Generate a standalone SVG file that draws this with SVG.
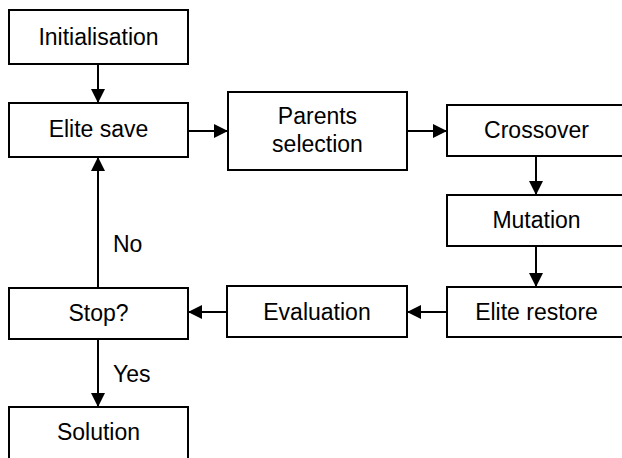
<svg xmlns="http://www.w3.org/2000/svg" width="622" height="458" viewBox="0 0 622 458">
<style>
.box{fill:#fff;stroke:#000;stroke-width:2}
.lbl{font-family:"Liberation Sans",Arial,sans-serif;font-size:23px;fill:#000;text-anchor:middle}
.side{font-family:"Liberation Sans",Arial,sans-serif;font-size:23px;fill:#000}
.edge{stroke:#000;stroke-width:2;fill:none;marker-end:url(#ah)}
</style>
<defs>
<marker id="ah" markerUnits="userSpaceOnUse" markerWidth="15" markerHeight="15" refX="14" refY="7" orient="auto">
<path d="M0,0 L14,7 L0,14 z" fill="#000"/>
</marker>
</defs>
<rect width="622" height="458" fill="#fff"/>
<g id="connectors">
<line class="edge" x1="98" y1="64" x2="98" y2="103"/>
<line class="edge" x1="188" y1="131" x2="228" y2="131"/>
<line class="edge" x1="407" y1="131" x2="447" y2="131"/>
<line class="edge" x1="536" y1="156" x2="536" y2="195"/>
<line class="edge" x1="536" y1="246" x2="536" y2="287"/>
<line class="edge" x1="447" y1="312" x2="407" y2="312"/>
<line class="edge" x1="227" y1="312" x2="188" y2="312"/>
<line class="edge" x1="98" y1="288" x2="98" y2="157"/>
<line class="edge" x1="98" y1="339" x2="98" y2="407"/>
<text class="side" x="113" y="252">No</text>
<text class="side" x="113" y="382">Yes</text>
</g>
<g id="initialisation"><rect class="box" x="9" y="10" width="179" height="54"/><text class="lbl" x="98.5" y="45">Initialisation</text></g>
<g id="elite-save"><rect class="box" x="9" y="103" width="179" height="54"/><text class="lbl" x="98.5" y="137">Elite save</text></g>
<g id="parents-selection"><rect class="box" x="228" y="92" width="179" height="78"/><text class="lbl" x="317.5" y="124">Parents</text><text class="lbl" x="317.5" y="152">selection</text></g>
<g id="crossover"><rect class="box" x="447" y="105" width="179" height="51"/><text class="lbl" x="536.5" y="138">Crossover</text></g>
<g id="mutation"><rect class="box" x="447" y="195" width="179" height="51"/><text class="lbl" x="536.5" y="228">Mutation</text></g>
<g id="elite-restore"><rect class="box" x="447" y="287" width="179" height="50"/><text class="lbl" x="536.5" y="320">Elite restore</text></g>
<g id="evaluation"><rect class="box" x="227" y="286" width="180" height="51"/><text class="lbl" x="317" y="320">Evaluation</text></g>
<g id="stop"><rect class="box" x="9" y="288" width="179" height="51"/><text class="lbl" x="98.5" y="321">Stop?</text></g>
<g id="solution"><rect class="box" x="9" y="407" width="179" height="60"/><text class="lbl" x="98.5" y="440">Solution</text></g>
</svg>
